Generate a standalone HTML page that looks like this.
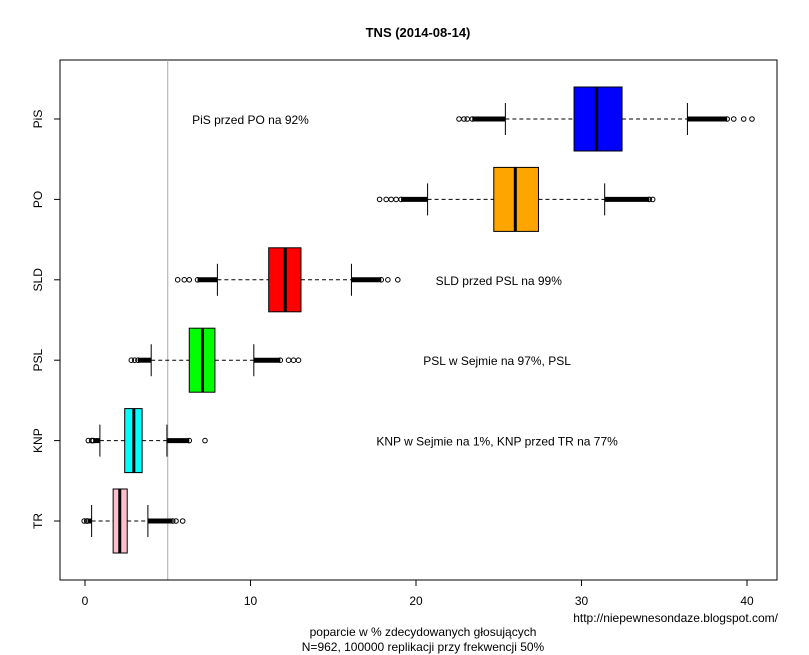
<!DOCTYPE html>
<html><head><meta charset="utf-8"><style>
body{margin:0;background:#fff}
svg{display:block;font-family:"Liberation Sans",Arial,sans-serif}
</style></head><body>
<svg id="c" width="809" height="655"></svg>
<script>
const categories=["PiS","PO","SLD","PSL","KNP","TR"];
const colors=["#0000ff","#ffa500","#ff0000","#00ff00","#00ffff","#ffc0cb"];
const q1=[29.55,24.7,11.1,6.3,2.4,1.7];
const medians=[30.9,26.0,12.1,7.1,2.95,2.1];
const q3=[32.45,27.4,13.05,7.85,3.45,2.55];
const whiskLo=[25.4,20.7,8.0,4.0,0.9,0.4];
const whiskHi=[36.4,31.4,16.1,10.2,4.95,3.8];
const denseLo=[23.4,19.1,6.8,3.2,0.5,0.15];
const denseHi=[38.8,34.1,17.9,11.8,6.3,5.3];
const sparseLo=[[22.6,22.9,23.1],[17.8,18.2,18.5,18.8],[5.6,6.0,6.3],[2.8,3.0],[0.2,0.4],[-0.05,0.1]];
const sparseHi=[[39.2,39.8,40.3],[34.3],[18.3,18.9],[12.3,12.6,12.9],[7.25],[5.5,5.9]];
const notes=[["PiS przed PO na 92%",10.0],["",0],["SLD przed PSL na 99%",25],["PSL w Sejmie na 97%, PSL",24.9],["KNP w Sejmie na 1%, KNP przed TR na 77%",24.9],["",0]];
const xTicks=[0,10,20,30,40];
const refLine=5;
const svg=document.getElementById('c');const NS="http://www.w3.org/2000/svg";
const L=60,R=777,T=60,B=580;
const xs=v=>85+v*16.55;
const ys=i=>119+i*80.4;
function el(t,a,p){const e=document.createElementNS(NS,t);for(const k in a)e.setAttribute(k,a[k]);(p||svg).appendChild(e);return e;}
function tx(s,a){const e=el('text',a);e.textContent=s;return e;}
const title=tx("TNS (2014-08-14)",{x:418,y:37,'text-anchor':'middle','font-size':13,'font-weight':'bold'});

const frame=el('rect',{x:L,y:T,width:R-L,height:B-T,fill:'none',stroke:'#000'});

const rl=el('line',{x1:xs(refLine),x2:xs(refLine),y1:T,y2:B,stroke:'#aaa'});

xTicks.forEach(v=>{el('line',{x1:xs(v),x2:xs(v),y1:B,y2:B+6,stroke:'#000'});
 const t=tx(v,{x:xs(v),y:B+25,'text-anchor':'middle','font-size':12});
 });
el('line',{x1:xs(0),x2:xs(40),y1:B,y2:B,stroke:'#000'});
categories.forEach((c,i)=>{
 const y=ys(i),h=32;
 const g=el('g',{});
 el('line',{x1:L-6,x2:L,y1:y,y2:y,stroke:'#000'});
 const lb=tx(c,{x:0,y:0,transform:`translate(${L-18},${y}) rotate(-90)`,'text-anchor':'middle','font-size':12});
 
 el('line',{x1:xs(whiskLo[i]),x2:xs(q1[i]),y1:y,y2:y,stroke:'#000','stroke-dasharray':'4,3'},g);
 el('line',{x1:xs(q3[i]),x2:xs(whiskHi[i]),y1:y,y2:y,stroke:'#000','stroke-dasharray':'4,3'},g);
 [whiskLo[i],whiskHi[i]].forEach(v=>el('line',{x1:xs(v),x2:xs(v),y1:y-16,y2:y+16,stroke:'#000'},g));
 el('rect',{x:xs(q1[i]),y:y-h,width:xs(q3[i])-xs(q1[i]),height:2*h,fill:colors[i],stroke:'#000'},g);
 el('line',{x1:xs(medians[i]),x2:xs(medians[i]),y1:y-h,y2:y+h,stroke:'#000','stroke-width':3},g);
 el('line',{x1:xs(denseLo[i]),x2:xs(whiskLo[i]),y1:y,y2:y,stroke:'#000','stroke-width':5},g);
 el('line',{x1:xs(whiskHi[i]),x2:xs(denseHi[i]),y1:y,y2:y,stroke:'#000','stroke-width':5},g);
 sparseLo[i].concat(sparseHi[i]).concat([denseLo[i],denseHi[i]]).forEach(v=>el('circle',{cx:xs(v),cy:y,r:2.3,fill:'none',stroke:'#000'},g));
 if(notes[i][0]){const n=tx(notes[i][0],{x:xs(notes[i][1]),y:y+5,'text-anchor':'middle','font-size':12});
  }
});
const a1=tx("poparcie w % zdecydowanych głosujących",{x:423,y:636,'text-anchor':'middle','font-size':12});

const a2=tx("N=962, 100000 replikacji przy frekwencji 50%",{x:423,y:651,'text-anchor':'middle','font-size':12});

const src=tx("http://niepewnesondaze.blogspot.com/",{x:778,y:622,'text-anchor':'end','font-size':12});

</script>
</body></html>
